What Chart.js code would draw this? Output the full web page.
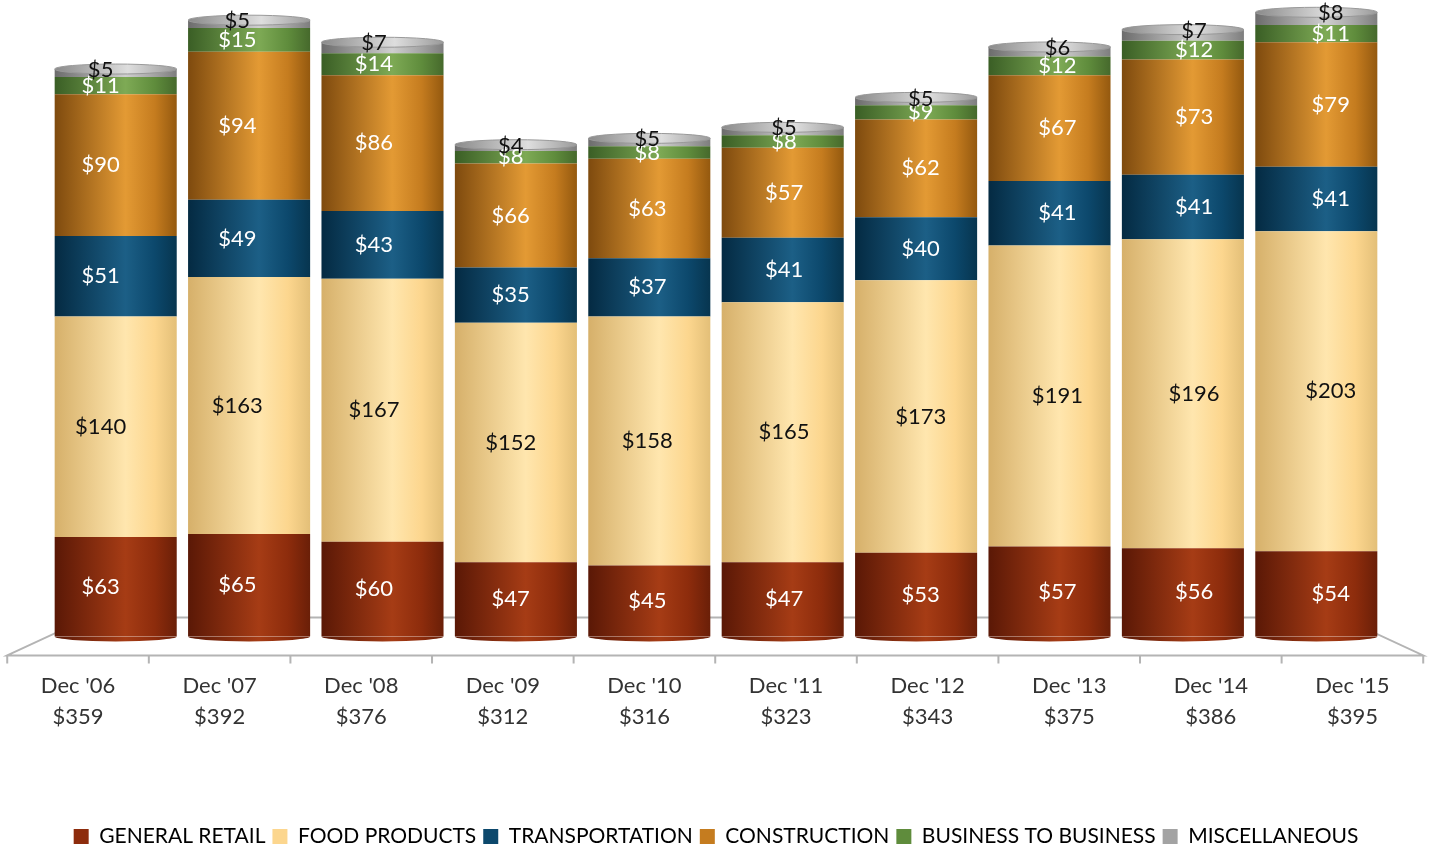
<!DOCTYPE html>
<html>
<head>
<meta charset="utf-8">
<title>Revenue by segment</title>
<script src="https://cdn.jsdelivr.net/npm/chart.js@4/dist/chart.umd.min.js"></script>
<style>
  html, body { margin: 0; padding: 0; background: #fff; }
  #wrap { width: 1435px; height: 850px; }
</style>
</head>
<body>
<div id="wrap"><canvas id="segChart"></canvas></div>
<script>
// ── Data ─────────────────────────────────────
const categories = ["Dec '06", "Dec '07", "Dec '08", "Dec '09", "Dec '10", "Dec '11", "Dec '12", "Dec '13", "Dec '14", "Dec '15"];
const totals     = ['$359', '$392', '$376', '$312', '$316', '$323', '$343', '$375', '$386', '$395'];

const generalRetail      = [63, 65, 60, 47, 45, 47, 53, 57, 56, 54];
const foodProducts       = [140, 163, 167, 152, 158, 165, 173, 191, 196, 203];
const transportation     = [51, 49, 43, 35, 37, 41, 40, 41, 41, 41];
const construction       = [90, 94, 86, 66, 63, 57, 62, 67, 73, 79];
const businessToBusiness = [11, 15, 14, 8, 8, 8, 9, 12, 12, 11];
const miscellaneous      = [5, 5, 7, 4, 5, 5, 5, 6, 7, 8];

// ── Styling ──────────────────────────────────
const FONT = 'Lato, "Open Sans", sans-serif';
const BAR_PCT = 0.915;

// dark edge, highlight, base, right edge
const shades = {
  retail:   ['#5a1806', '#a63c15', '#8d2c0c', '#6a1f08'],
  food:     ['#d6b06a', '#ffe6ae', '#fcd68e', '#e3bf78'],
  trans:    ['#042a42', '#1c5f86', '#0c486c', '#07354f'],
  constr:   ['#7e4a0e', '#e39a34', '#c57c1f', '#94590f'],
  b2b:      ['#3a5e25', '#7eaa55', '#5f8c3c', '#46692c'],
  misc:     ['#6c6c6c', '#cfcfcf', '#a3a3a3', '#7e7e7e'],
};

function cylinder(stops) {
  return (ctx) => {
    const chart = ctx.chart;
    if (!chart.chartArea || ctx.dataIndex === undefined) return stops[2];
    const xs = chart.scales.x;
    const cx = xs.getPixelForValue(ctx.dataIndex);
    const half = (xs.width / categories.length) * BAR_PCT / 2;
    const g = chart.ctx.createLinearGradient(cx - half, 0, cx + half, 0);
    g.addColorStop(0, stops[0]);
    g.addColorStop(0.58, stops[1]);
    g.addColorStop(0.82, stops[2]);
    g.addColorStop(1, stops[3]);
    return g;
  };
}

function series(label, data, key, textColor) {
  return {
    label,
    data,
    backgroundColor: cylinder(shades[key]),
    legendColor: shades[key][2],
    textColor,
    borderWidth: 0,
    barPercentage: BAR_PCT,
    categoryPercentage: 1,
  };
}

// ── Floor, caps and value labels ─────────────
const cylinderPlugin = {
  id: 'cylinderDeco',
  afterLayout(chart) {
    // push legend a little lower, as in the original slide
    chart.legend.top += 7;
    chart.legend.bottom += 7;
  },
  beforeDatasetsDraw(chart) {
    const c = chart.ctx;
    const xl = chart.scales.xl;
    const bottom = chart.chartArea.bottom;
    const left = xl.getPixelForValue(-0.5);
    const right = xl.getPixelForValue(categories.length - 0.5);
    const front = bottom + 19;
    const back = bottom - 19;
    c.save();
    c.strokeStyle = '#b4b4b4';
    c.lineWidth = 2;
    c.beginPath();
    c.moveTo(left, front);
    c.lineTo(left + 82, back);
    c.lineTo(right - 82, back);
    c.lineTo(right, front);
    c.closePath();
    c.stroke();
    c.beginPath();
    for (let i = 0; i <= categories.length; i++) {
      const px = xl.getPixelForValue(i - 0.5);
      c.moveTo(px, front);
      c.lineTo(px, front + 8);
    }
    c.stroke();
    c.restore();
  },
  afterDatasetsDraw(chart) {
    const c = chart.ctx;
    const xl = chart.scales.xl;
    const n = chart.data.datasets.length;
    const bottomMeta = chart.getDatasetMeta(0);
    const topMeta = chart.getDatasetMeta(n - 1);
    c.save();
    // rounded bottoms
    bottomMeta.data.forEach((el, i) => {
      c.fillStyle = cylinder(shades.retail)({ chart, dataIndex: i });
      c.beginPath();
      c.ellipse(el.x, el.base, el.width / 2, 5, 0, 0, Math.PI);
      c.fill();
    });
    // top caps
    topMeta.data.forEach((el) => {
      const g = c.createLinearGradient(el.x - el.width / 2, 0, el.x + el.width / 2, 0);
      g.addColorStop(0, '#8a8a8a');
      g.addColorStop(0.6, '#dedede');
      g.addColorStop(1, '#9a9a9a');
      c.fillStyle = g;
      c.beginPath();
      c.ellipse(el.x, el.y, el.width / 2, 5, 0, 0, Math.PI * 2);
      c.fill();
      c.strokeStyle = '#999';
      c.lineWidth = 1;
      c.stroke();
    });
    // value labels (nudged toward the front axis label, like the 3D view)
    c.font = '22px ' + FONT;
    c.textAlign = 'center';
    c.textBaseline = 'middle';
    chart.data.datasets.forEach((ds, di) => {
      const meta = chart.getDatasetMeta(di);
      meta.data.forEach((el, i) => {
        const x = el.x + 0.4 * (xl.getPixelForValue(i) - el.x);
        let y = (el.y + el.base) / 2;
        if (di === n - 1) y = el.y + 1;
        c.fillStyle = ds.textColor;
        c.fillText('$' + ds.data[i], x, y);
      });
    });
    c.restore();
  },
};

// ── Chart ────────────────────────────────────
const chart = new Chart(document.getElementById('segChart'), {
  type: 'bar',
  data: {
    labels: categories,
    datasets: [
      series('GENERAL RETAIL', generalRetail, 'retail', '#ffffff'),
      series('FOOD PRODUCTS', foodProducts, 'food', '#111111'),
      series('TRANSPORTATION', transportation, 'trans', '#ffffff'),
      series('CONSTRUCTION', construction, 'constr', '#ffffff'),
      series('BUSINESS TO BUSINESS', businessToBusiness, 'b2b', '#ffffff'),
      series('MISCELLANEOUS', miscellaneous, 'misc', '#111111'),
    ],
  },
  options: {
    responsive: true,
    maintainAspectRatio: false,
    animation: false,
    layout: { padding: { left: 49, right: 52, top: 6, bottom: 0 } },
    plugins: {
      tooltip: { enabled: false },
      legend: {
        position: 'bottom',
        labels: {
          font: { family: FONT, size: 21 },
          color: '#222',
          boxWidth: 15,
          boxHeight: 15,
          padding: 7,
          generateLabels: (ch) => ch.data.datasets.map((ds, i) => ({
            text: ds.label,
            fillStyle: ds.legendColor,
            strokeStyle: ds.legendColor,
            lineWidth: 0,
            datasetIndex: i,
            hidden: false,
          })),
        },
      },
    },
    scales: {
      x: { stacked: true, display: false, offset: true },
      xl: {
        type: 'linear',
        position: 'bottom',
        offset: false,
        min: -0.205,
        max: 9.216,
        grid: { display: false, drawTicks: false, offset: false },
        border: { display: false },
        afterBuildTicks: (axis) => { axis.ticks = categories.map((_, i) => ({ value: i })); },
        afterFit: (axis) => { axis.height += 46; },
        ticks: {
          autoSkip: false,
          maxRotation: 0,
          padding: 34,
          color: '#333',
          font: { family: FONT, size: 22, lineHeight: 1.4 },
          callback: (v) => [categories[v], totals[v]],
        },
      },
      y: { stacked: true, display: false, min: 0, max: 400 },
    },
  },
  plugins: [cylinderPlugin],
});
</script>
</body>
</html>
